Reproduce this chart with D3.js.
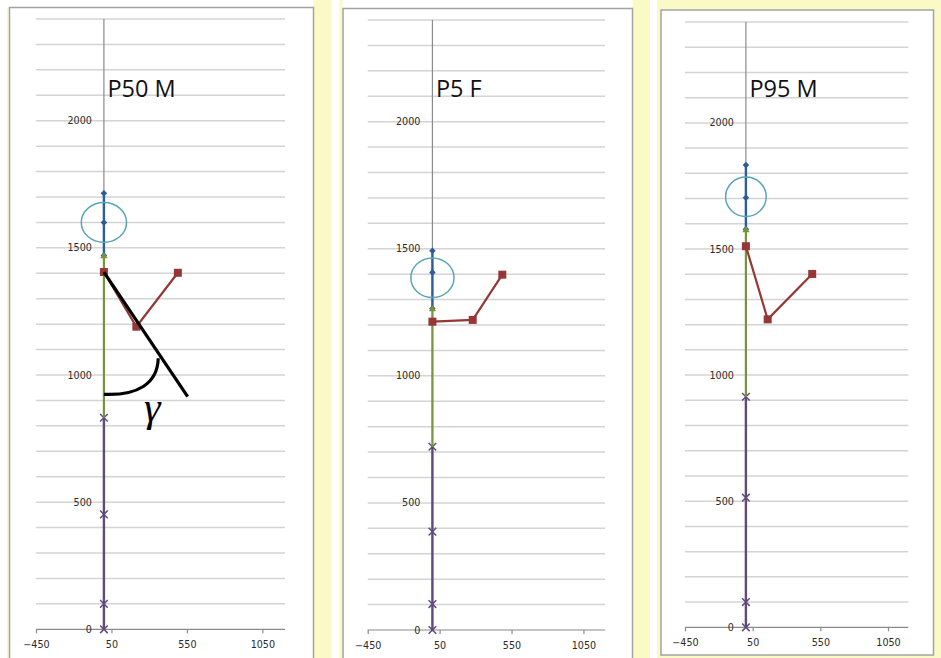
<!DOCTYPE html>
<html>
<head>
<meta charset="utf-8">
<script src="https://cdn.jsdelivr.net/npm/d3@7/dist/d3.min.js"></script>
<style>
  html, body { margin: 0; padding: 0; background: #ffffff; }
  svg { display: block; }
</style>
</head>
<body>
<svg id="chart" width="941" height="658"></svg>
<script>
// Stick-figure posture charts: head, trunk, arm and leg segments per percentile body.
const panelTitles = ["P50 M", "P5 F", "P95 M"];

// Head: crown, head centre, neck (x = 0 for all points)
const headY = [[1715, 1600, 1470], [1492, 1407, 1265], [1833, 1703, 1578]];
// Trunk: neck to hip
const trunkY = [[1470, 832], [1265, 721], [1578, 914]];
// Arm: shoulder, elbow, hand
const armX = [[0, 215, 490], [0, 280, 486], [0, 161, 490]];
const armY = [[1405, 1190, 1402], [1213, 1220, 1398], [1511, 1221, 1401]];
// Leg: hip, knee, ankle, floor
const legY = [[832, 452, 100, 0], [721, 387, 102, 0], [914, 514, 100, 0]];
// Head outline centre and radii (data units)
const headCenterY = [1600, 1386, 1707];
const headRadiusX = 150;
const headRadiusY = 78;

// Axis ticks
const xTicks = [-450, 50, 550, 1050];
const yTicks = [0, 500, 1000, 1500, 2000];
const yGrid = d3.range(100, 2401, 100);
const xDomain = [-450, 1200];
const yDomain = [0, 2400];

// Angle annotation on the first figure (trunk-to-arm line and arc)
const gammaLine = [[0, 1405], [555, 915]];
const gammaArc = [[0, 924], [220, 918], [355, 965], [360, 1066]];
const gammaLabel = { x: 320, y: 818, text: "γ" };

// Layout of the three chart boxes
const layout = [
  { frame: [9.5, 7.5, 304, 660], x0: 36, x1: 285, yTop: 19, yZero: 629.3 },
  { frame: [343, 8.5, 289.5, 660], x0: 367.7, x1: 605, yTop: 20, yZero: 630 },
  { frame: [661, 10, 272.5, 645], x0: 685, x1: 908.3, yTop: 22, yZero: 627.3 }
];

const colors = {
  head: "#2e5d95",
  trunk: "#77933c",
  arm: "#953735",
  leg: "#604a7b",
  outline: "#5ba5b9",
  grid: "#d4d4d4",
  axis: "#8a8a8a",
  frame: "#a3a3a3",
  yellow: "#fafac6",
  tick: "#2a2a2a"
};

const svg = d3.select("#chart");

// Backdrop strips behind the chart boxes
svg.append("rect").attr("x", 7).attr("y", 0).attr("width", 324.7).attr("height", 658).attr("fill", colors.yellow);
svg.append("rect").attr("x", 0).attr("y", 0).attr("width", 313.5).attr("height", 7.5).attr("fill", "#ffffff");
svg.append("rect").attr("x", 339.3).attr("y", 0).attr("width", 310.7).attr("height", 658).attr("fill", colors.yellow);
svg.append("rect").attr("x", 342.5).attr("y", 0).attr("width", 290).attr("height", 8.5).attr("fill", "#ffffff");
svg.append("rect").attr("x", 657).attr("y", 0).attr("width", 284).attr("height", 658).attr("fill", colors.yellow);

// Marker path builders
function diamondPath(cx, cy, r) {
  return `M${cx},${cy - r}L${cx + r},${cy}L${cx},${cy + r}L${cx - r},${cy}Z`;
}
function trianglePath(cx, cy, r) {
  return `M${cx},${cy - r}L${cx + r},${cy + r * 0.8}L${cx - r},${cy + r * 0.8}Z`;
}
function squarePath(cx, cy, r) {
  return `M${cx - r},${cy - r}h${2 * r}v${2 * r}h${-2 * r}Z`;
}
function crossPath(cx, cy, r) {
  return `M${cx - r},${cy - r}L${cx + r},${cy + r}M${cx - r},${cy + r}L${cx + r},${cy - r}`;
}

layout.forEach((L, i) => {
  const g = svg.append("g");
  const [fx, fy, fw, fh] = L.frame;
  g.append("rect").attr("x", fx).attr("y", fy).attr("width", fw).attr("height", fh)
    .attr("fill", "#ffffff").attr("stroke", colors.frame).attr("stroke-width", 1.5);

  const x = d3.scaleLinear().domain(xDomain).range([L.x0, L.x1]);
  const y = d3.scaleLinear().domain(yDomain).range([L.yZero, L.yTop]);
  const line = d3.line().x(d => x(d[0])).y(d => y(d[1]));

  // Horizontal gridlines
  g.append("g").selectAll("line").data(yGrid).join("line")
    .attr("x1", L.x0).attr("x2", L.x1)
    .attr("y1", d => y(d)).attr("y2", d => y(d))
    .attr("stroke", colors.grid).attr("stroke-width", 1.5);

  // Horizontal axis at y = 0
  const xAxis = d3.axisBottom(x).tickValues(xTicks).tickSize(4).tickSizeOuter(0).tickFormat(d3.format("d"));
  const xa = g.append("g").attr("transform", `translate(0,${y(0)})`).call(xAxis);
  xa.select(".domain").attr("stroke", colors.axis).attr("stroke-width", 1.2)
    .attr("d", `M${L.x0},0H${L.x1}`);
  xa.selectAll(".tick line").attr("stroke", colors.axis).attr("stroke-width", 1.2);
  xa.selectAll(".tick text").attr("y", 18.7).attr("dy", null)
    .attr("font-family", "DejaVu Sans").attr("font-size", 9.6).attr("fill", colors.tick);

  // Vertical axis at x = 0
  const yAxis = d3.axisLeft(y).tickValues(yTicks).tickSize(0).tickPadding(12).tickFormat(d3.format("d"));
  const ya = g.append("g").attr("transform", `translate(${x(0)},0)`).call(yAxis);
  ya.select(".domain").attr("stroke", colors.axis).attr("stroke-width", 1.2)
    .attr("d", `M0,${L.yTop}V${L.yZero}`);
  ya.selectAll(".tick text").attr("font-family", "DejaVu Sans").attr("font-size", 9.6).attr("fill", colors.tick);

  // Series data as [x, y] pairs
  const head = headY[i].map(v => [0, v]);
  const trunk = trunkY[i].map(v => [0, v]);
  const arm = armX[i].map((v, k) => [v, armY[i][k]]);
  const leg = legY[i].map(v => [0, v]);

  // Leg
  g.append("path").attr("d", line(leg)).attr("fill", "none").attr("stroke", colors.leg).attr("stroke-width", 2.4);
  g.append("g").selectAll("path").data(leg).join("path")
    .attr("d", d => crossPath(x(d[0]), y(d[1]), 3.8))
    .attr("stroke", colors.leg).attr("stroke-width", 1.5).attr("fill", "none");

  // Head
  g.append("path").attr("d", line(head)).attr("fill", "none").attr("stroke", colors.head).attr("stroke-width", 2.4);
  g.append("g").selectAll("path").data(head).join("path")
    .attr("d", d => diamondPath(x(d[0]), y(d[1]), 3.3))
    .attr("fill", colors.head);

  // Trunk
  g.append("path").attr("d", line(trunk)).attr("fill", "none").attr("stroke", colors.trunk).attr("stroke-width", 2.2);
  g.append("g").selectAll("path").data(trunk.slice(0, 1)).join("path")
    .attr("d", d => trianglePath(x(d[0]), y(d[1]), 3.6))
    .attr("fill", colors.trunk);

  // Arm
  g.append("path").attr("d", line(arm)).attr("fill", "none").attr("stroke", colors.arm).attr("stroke-width", 2.2);
  g.append("g").selectAll("path").data(arm).join("path")
    .attr("d", d => squarePath(x(d[0]), y(d[1]), 4))
    .attr("fill", colors.arm);

  // Head outline
  const cx = x(0), cy = y(headCenterY[i]);
  g.append("ellipse").attr("cx", cx).attr("cy", cy)
    .attr("rx", x(headRadiusX) - x(0)).attr("ry", y(0) - y(headRadiusY))
    .attr("fill", "none").attr("stroke", colors.outline).attr("stroke-width", 1.5);

  // Title
  g.append("text").attr("x", x(0) + 3.5).attr("y", 96.7)
    .attr("font-family", "Open Sans").attr("font-size", 23.5).attr("fill", "#111111")
    .text(panelTitles[i]);

  // Angle annotation on the first figure
  if (i === 0) {
    g.append("path").attr("d", line(gammaLine)).attr("stroke", "#000000").attr("stroke-width", 3.2).attr("fill", "none");
    const p = gammaArc.map(d => [x(d[0]), y(d[1])]);
    g.append("path")
      .attr("d", `M${p[0][0]},${p[0][1]}C${p[1][0]},${p[1][1]} ${p[2][0]},${p[2][1]} ${p[3][0]},${p[3][1]}`)
      .attr("stroke", "#000000").attr("stroke-width", 3.2).attr("fill", "none");
    g.append("text").attr("x", x(gammaLabel.x)).attr("y", y(gammaLabel.y))
      .attr("text-anchor", "middle")
      .attr("font-family", "Liberation Serif").attr("font-style", "italic")
      .attr("font-size", 42).attr("fill", "#000000")
      .text(gammaLabel.text);
  }
});
</script>
</body>
</html>
